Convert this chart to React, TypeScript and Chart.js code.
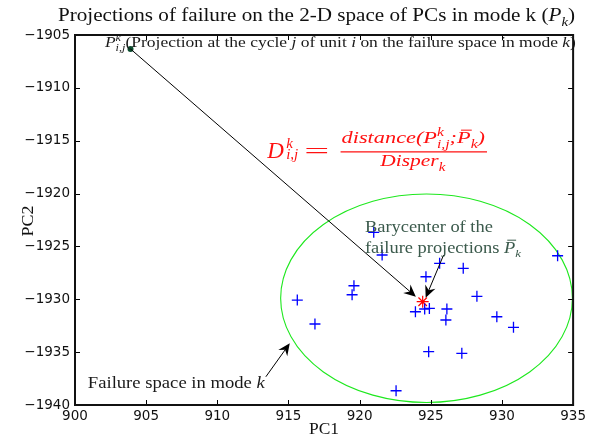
import { useEffect, useRef } from 'react';
import { Chart, registerables } from 'chart.js';

Chart.register(...registerables);

// ---- data ----
const failureX = [920.99, 921.58, 925.62, 927.28, 924.66, 919.6, 919.47, 915.62, 928.24, 923.92, 924.57, 924.9, 926.13, 926.06, 916.86, 929.64, 930.81, 924.85, 927.18, 922.56, 933.91];
const failureY = [-1923.67, -1925.81, -1926.6, -1927.07, -1927.87, -1928.72, -1929.57, -1930.07, -1929.72, -1931.18, -1930.92, -1930.86, -1930.92, -1931.96, -1932.34, -1931.65, -1932.65, -1934.96, -1935.11, -1938.65, -1925.88];
const barycenter = { x: 924.43, y: -1930.23 };
const projection = { x: 903.9, y: -1906.32 };
const ellipseCenter = { x: 924.7, y: -1929.9 };
const ellipseRadii = { x: 10.25, y: 9.86 };
const xTicks = [900, 905, 910, 915, 920, 925, 930, 935];
const yTicks = [-1940, -1935, -1930, -1925, -1920, -1915, -1910, -1905];

const SERIF = '"Liberation Serif", "DejaVu Serif", serif';
const SANS = '"DejaVu Sans", sans-serif';

type Run = { t: string; it?: boolean; sc?: number; dy?: number; bar?: boolean; nx?: boolean };

function fontOf(r: Run, size: number, family: string) {
  return `${r.it ? 'italic ' : ''}${(size * (r.sc ?? 1)).toFixed(2)}px ${family}`;
}
function measureRich(ctx: CanvasRenderingContext2D, runs: Run[], size: number, family: string) {
  let w = 0;
  const ws = runs.map((r) => {
    ctx.font = fontOf(r, size, family);
    const m = ctx.measureText(r.t).width;
    if (!r.nx) w += m;
    return m;
  });
  return { w, ws };
}
function drawRich(
  ctx: CanvasRenderingContext2D,
  runs: Run[],
  x: number,
  y: number,
  size: number,
  family: string,
  color: string,
  align: 'left' | 'center' | 'right' = 'left',
  targetW?: number
) {
  const { w, ws } = measureRich(ctx, runs, size, family);
  const sx = targetW ? targetW / w : 1;
  const W = w * sx;
  const x0 = align === 'left' ? x : align === 'center' ? x - W / 2 : x - W;
  ctx.save();
  ctx.translate(x0, 0);
  ctx.scale(sx, 1);
  ctx.fillStyle = color;
  ctx.strokeStyle = color;
  ctx.textBaseline = 'alphabetic';
  ctx.textAlign = 'left';
  let cx = 0;
  runs.forEach((r, i) => {
    ctx.font = fontOf(r, size, family);
    const yy = y + (r.dy ?? 0) * size;
    ctx.fillText(r.t, cx, yy);
    if (r.bar) {
      const s = size * (r.sc ?? 1);
      ctx.lineWidth = 1;
      ctx.beginPath();
      ctx.moveTo(cx + s * 0.18, yy - s * 0.8);
      ctx.lineTo(cx + ws[i] + s * 0.05, yy - s * 0.8);
      ctx.stroke();
    }
    if (!r.nx) cx += ws[i];
  });
  ctx.restore();
  return W;
}

function drawArrow(ctx: CanvasRenderingContext2D, x1: number, y1: number, x2: number, y2: number) {
  const a = Math.atan2(y2 - y1, x2 - x1);
  const L = 12;
  const H = 5.5;
  const N = 4;
  ctx.save();
  ctx.strokeStyle = '#000';
  ctx.fillStyle = '#000';
  ctx.lineWidth = 1;
  ctx.beginPath();
  ctx.moveTo(x1, y1);
  ctx.lineTo(x2 - Math.cos(a) * N, y2 - Math.sin(a) * N);
  ctx.stroke();
  const bx = x2 - Math.cos(a) * L;
  const by = y2 - Math.sin(a) * L;
  const px = -Math.sin(a);
  const py = Math.cos(a);
  ctx.beginPath();
  ctx.moveTo(x2, y2);
  ctx.lineTo(bx + px * H, by + py * H);
  ctx.lineTo(x2 - Math.cos(a) * (L - N), y2 - Math.sin(a) * (L - N));
  ctx.lineTo(bx - px * H, by - py * H);
  ctx.closePath();
  ctx.fill();
  ctx.restore();
}

const annotPlugin = {
  id: 'annot',
  beforeDatasetsDraw(chart: any) {
    const { ctx, chartArea: ca, scales } = chart;
    const xs = scales.x;
    const ys = scales.y;
    ctx.save();
    ctx.beginPath();
    ctx.rect(ca.left, ca.top, ca.right - ca.left, ca.bottom - ca.top);
    ctx.clip();
    const cx = xs.getPixelForValue(ellipseCenter.x);
    const cy = ys.getPixelForValue(ellipseCenter.y);
    const rx = Math.abs(xs.getPixelForValue(ellipseCenter.x + ellipseRadii.x) - cx);
    const ry = Math.abs(ys.getPixelForValue(ellipseCenter.y + ellipseRadii.y) - cy);
    ctx.strokeStyle = '#1ee81e';
    ctx.lineWidth = 1.1;
    ctx.beginPath();
    ctx.ellipse(cx, cy, rx, ry, 0, 0, Math.PI * 2);
    ctx.stroke();
    ctx.restore();
  },
  afterDatasetsDraw(chart: any) {
    const { ctx, chartArea: ca, scales } = chart;
    const xs = scales.x;
    const ys = scales.y;
    const X = (v: number) => xs.getPixelForValue(v);
    const Y = (v: number) => ys.getPixelForValue(v);

    // arrows
    drawArrow(ctx, X(projection.x), Y(projection.y), X(923.95), Y(-1929.75));
    drawArrow(ctx, X(925.9), Y(-1925.81), X(924.64), Y(-1929.85));
    drawArrow(ctx, X(913.41), Y(-1937.33), X(915.09), Y(-1934.17));

    // top annotation
    const topRuns: Run[] = [
      { t: 'P', it: true },
      { t: 'k', it: true, sc: 0.7, dy: -0.42, nx: true },
      { t: 'i,j', it: true, sc: 0.7, dy: 0.28 },
      { t: '(Projection at the cycle ' },
      { t: 'j', it: true },
      { t: ' of unit ' },
      { t: 'i', it: true },
      { t: ' on the failure space in mode ' },
      { t: 'k', it: true },
      { t: ')' },
    ];
    drawRich(ctx, topRuns, X(902.1), Y(-1906.14), 14, SERIF, '#1a1a1a', 'left', 471);

    // formula
    const red = '#ff1111';
    drawRich(ctx, [{ t: 'D', it: true }], X(913.5), Y(-1916.6), 23, SERIF, red);
    const dx = X(913.5) + 19;
    drawRich(ctx, [{ t: 'k', it: true }], dx, Y(-1915.7), 15, SERIF, red);
    drawRich(ctx, [{ t: 'i,j', it: true }], dx, Y(-1916.75), 15, SERIF, red);
    drawRich(ctx, [{ t: '=' }], X(916.1), Y(-1916.65), 22, SERIF, red, 'left', 25);
    const numRuns: Run[] = [
      { t: 'distance(', it: true },
      { t: 'P', it: true },
      { t: 'k', it: true, sc: 0.7, dy: -0.42, nx: true },
      { t: 'i,j', it: true, sc: 0.7, dy: 0.3 },
      { t: ';', it: true },
      { t: 'P', it: true, bar: true },
      { t: 'k', it: true, sc: 0.7, dy: 0.3 },
      { t: ')', it: true },
    ];
    const fl = X(918.66);
    const fr = X(928.95);
    drawRich(ctx, numRuns, fl + 1, Y(-1915.25), 16.5, SERIF, red, 'left', fr - fl - 3);
    ctx.save();
    ctx.strokeStyle = red;
    ctx.lineWidth = 1.2;
    ctx.beginPath();
    ctx.moveTo(fl, Y(-1916.05));
    ctx.lineTo(fr, Y(-1916.05));
    ctx.stroke();
    ctx.restore();
    const denRuns: Run[] = [
      { t: 'Disper', it: true },
      { t: 'k', it: true, sc: 0.7, dy: 0.3 },
    ];
    drawRich(ctx, denRuns, (fl + fr) / 2 - 1, Y(-1917.4), 16.5, SERIF, red, 'center', 65);

    // barycenter text
    const bc = '#3b5a4c';
    drawRich(ctx, [{ t: 'Barycenter of the' }], X(920.37), Y(-1923.64), 16, SERIF, bc, 'left', 128);
    drawRich(
      ctx,
      [
        { t: 'failure projections ' },
        { t: 'P', it: true, bar: true },
        { t: 'k', it: true, sc: 0.7, dy: 0.28 },
      ],
      X(920.37),
      Y(-1925.62),
      16,
      SERIF,
      bc,
      'left',
      156
    );

    // failure space text
    const f1: Run[] = [{ t: 'Failure space in mode ' }, { t: 'k', it: true }];
    drawRich(ctx, f1, X(900.9), Y(-1938.4), 16, SERIF, '#1a1a1a', 'left', 177);

    // inward ticks
    ctx.save();
    ctx.strokeStyle = '#000';
    ctx.lineWidth = 1;
    ctx.beginPath();
    xTicks.forEach((v) => {
      const px = Math.round(X(v)) + 0.5;
      ctx.moveTo(px, ca.bottom);
      ctx.lineTo(px, ca.bottom - 5);
      ctx.moveTo(px, ca.top);
      ctx.lineTo(px, ca.top + 5);
    });
    yTicks.forEach((v) => {
      const py = Math.round(Y(v)) + 0.5;
      ctx.moveTo(ca.left, py);
      ctx.lineTo(ca.left + 5, py);
      ctx.moveTo(ca.right, py);
      ctx.lineTo(ca.right - 5, py);
    });
    ctx.stroke();
    // frame
    ctx.lineWidth = 2;
    ctx.strokeStyle = '#111';
    ctx.strokeRect(ca.left, ca.top, ca.right - ca.left, ca.bottom - ca.top);
    ctx.restore();
  },
  afterDraw(chart: any) {
    const { ctx, chartArea: ca } = chart;
    const titleRuns: Run[] = [
      { t: 'Projections of failure on the 2-D space of PCs in mode k (' },
      { t: 'P', it: true },
      { t: 'k', it: true, sc: 0.7, dy: 0.25 },
      { t: ')' },
    ];
    drawRich(ctx, titleRuns, 58, 21, 19, SERIF, '#111', 'left', 517);
    drawRich(ctx, [{ t: 'PC1' }], (ca.left + ca.right) / 2, 434, 17, SERIF, '#111', 'center', 30);
    ctx.save();
    ctx.translate(27, 221);
    ctx.rotate(-Math.PI / 2);
    drawRich(ctx, [{ t: 'PC2' }], 0, 6, 17, SERIF, '#111', 'center', 31);
    ctx.restore();
  },
};

export default function App() {
  const ref = useRef<HTMLCanvasElement | null>(null);
  useEffect(() => {
    document.body.style.margin = '0';
    const canvas = ref.current;
    if (!canvas) return;
    const pts = failureX.map((x, i) => ({ x, y: failureY[i] }));
    const chart = new Chart(canvas, {
      type: 'scatter',
      data: {
        datasets: [
          {
            data: pts,
            pointStyle: 'cross',
            pointRadius: 5.5,
            borderColor: '#0000ff',
            backgroundColor: '#0000ff',
            borderWidth: 1.3,
          },
          {
            data: [barycenter],
            pointStyle: 'star',
            pointRadius: 6,
            borderColor: '#ff0000',
            backgroundColor: '#ff0000',
            borderWidth: 1.2,
          },
          {
            data: [projection],
            pointStyle: 'circle',
            pointRadius: 3,
            borderColor: '#0b4d2e',
            backgroundColor: '#0b4d2e',
            borderWidth: 0,
          },
        ],
      },
      options: {
        animation: false,
        responsive: false,
        maintainAspectRatio: false,
        events: [],
        layout: { padding: { top: 35, right: 14, left: 0, bottom: 0 } },
        plugins: {
          legend: { display: false },
          tooltip: { enabled: false },
          title: { display: false },
        },
        scales: {
          x: {
            type: 'linear',
            min: 900,
            max: 935,
            afterBuildTicks: (s: any) => {
              s.ticks = xTicks.map((v) => ({ value: v }));
            },
            ticks: {
              color: '#111',
              font: { family: SANS, size: 13.5 },
              padding: 3,
              maxRotation: 0,
              callback: (v: any) => String(v),
            },
            grid: { display: false, drawTicks: false },
            border: { display: false },
            afterFit: (s: any) => {
              s.height = 31;
            },
          },
          y: {
            type: 'linear',
            min: -1940,
            max: -1905,
            afterBuildTicks: (s: any) => {
              s.ticks = yTicks.map((v) => ({ value: v }));
            },
            ticks: {
              color: '#111',
              font: { family: SANS, size: 13.5 },
              padding: 5,
              callback: (v: any) => (v < 0 ? '\u2212' + Math.abs(v) : String(v)),
            },
            grid: { display: false, drawTicks: false },
            border: { display: false },
            afterFit: (s: any) => {
              s.width = 75;
            },
          },
        },
      },
      plugins: [annotPlugin],
    });
    return () => chart.destroy();
  }, []);
  return (
    <div style={{ width: 589, height: 436 }}>
      <canvas ref={ref} width={589} height={436} style={{ display: 'block' }} />
    </div>
  );
}
